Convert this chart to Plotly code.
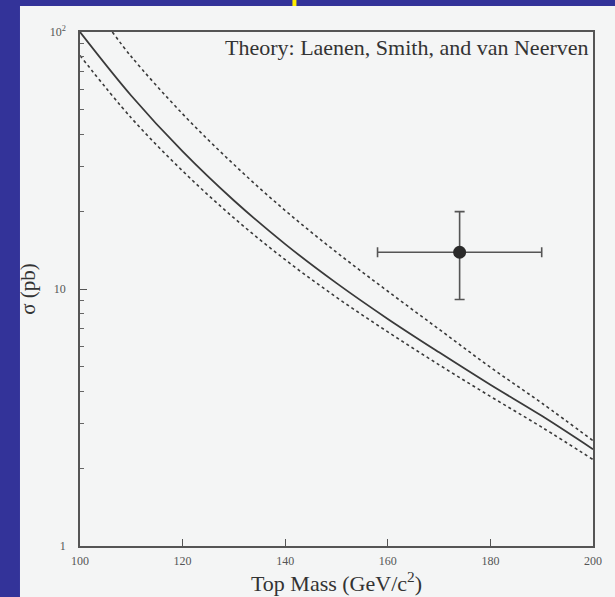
import plotly.graph_objects as go

# Theory curves (Laenen, Smith, van Neerven), sigma in pb vs top mass in GeV/c^2
mass = [100, 110, 120, 130, 140, 150, 160, 170, 180, 190, 200]
sigma_central = [100, 56.5, 34.3, 22.1, 14.95, 10.54, 7.65, 5.67, 4.24, 3.21, 2.38]
sigma_lower = [81, 46.3, 28.8, 18.9, 13.0, 9.28, 6.81, 5.07, 3.82, 2.9, 2.17]
mass_upper = [106.3, 110, 120, 130, 140, 150, 160, 170, 180, 190, 200]
sigma_upper = [100, 80.2, 48.0, 30.5, 20.2, 13.9, 9.8, 6.97, 4.96, 3.6, 2.57]

# Measurement
meas_mass = [174]
meas_mass_err = [16]
meas_sigma = [13.9]
meas_sigma_up = [6.1]
meas_sigma_down = [4.8]

x_ticks = [100, 120, 140, 160, 180, 200]
y_tickvals = [1, 10, 100]
y_ticktext = ["1", "10", "10<sup>2</sup>"]
y_minor = [2, 3, 4, 5, 6, 7, 8, 9, 20, 30, 40, 50, 60, 70, 80, 90]

SERIF = "Liberation Serif, Times New Roman, serif"
INK = "#3a3a3a"
PAPER = "#f4f5f5"

fig = go.Figure()
fig.add_trace(go.Scatter(x=mass_upper, y=sigma_upper, mode="lines",
                         line=dict(color=INK, width=1.6, dash="dot", shape="spline"),
                         showlegend=False))
fig.add_trace(go.Scatter(x=mass, y=sigma_central, mode="lines",
                         line=dict(color=INK, width=1.8, shape="spline"),
                         showlegend=False))
fig.add_trace(go.Scatter(x=mass, y=sigma_lower, mode="lines",
                         line=dict(color=INK, width=1.6, dash="dot", shape="spline"),
                         showlegend=False))
fig.add_trace(go.Scatter(x=meas_mass, y=meas_sigma, mode="markers",
                         marker=dict(color="#2a2a2a", size=13),
                         error_x=dict(type="data", array=meas_mass_err, color="#555", thickness=1.6, width=5),
                         error_y=dict(type="data", array=meas_sigma_up, arrayminus=meas_sigma_down,
                                      color="#555", thickness=1.6, width=5),
                         showlegend=False))

fig.add_annotation(x=0.995, y=0.97, xref="paper", yref="paper", xanchor="right", yanchor="middle",
                   text="Theory: Laenen, Smith, and van Neerven", showarrow=False,
                   font=dict(family=SERIF, size=22, color="#333"))

# light page area on blue slide background
fig.add_shape(type="rect", xref="paper", yref="paper", x0=-0.117, x1=1.05, y0=-0.11, y1=1.0506,
              fillcolor=PAPER, line=dict(width=0), layer="below")
fig.add_shape(type="line", xref="paper", yref="paper", x0=0.418, x1=0.418, y0=1.0506, y1=1.07,
              line=dict(color="#ffee00", width=4))

fig.update_xaxes(range=[100, 200], tickvals=x_ticks, ticks="inside", ticklen=7, tickcolor="#555",
                 showline=True, linecolor="#555", linewidth=1.5, mirror=True, showgrid=False,
                 zeroline=False, tickfont=dict(family=SERIF, size=12, color="#555"),
                 ticklabelstandoff=3,
                 title=dict(text="Top Mass (GeV/c<sup>2</sup>)", font=dict(family=SERIF, size=22, color="#333"),
                            standoff=0))
fig.update_yaxes(type="log", range=[0, 2], tickvals=y_tickvals, ticktext=y_ticktext, ticks="inside",
                 ticklen=7, tickcolor="#555", showline=True, linecolor="#555", linewidth=1.5, mirror=True,
                 showgrid=False, zeroline=False,
                 minor=dict(tickvals=y_minor, ticks="inside", ticklen=4, tickcolor="#666", showgrid=False),
                 tickfont=dict(family=SERIF, size=12, color="#555"),
                 ticklabelstandoff=10,
                 title=dict(text="σ (pb)", font=dict(family=SERIF, size=21, color="#333"), standoff=8))

fig.update_layout(width=615, height=597, paper_bgcolor="#333399", plot_bgcolor=PAPER,
                  margin=dict(l=80, r=22, t=32, b=51))

fig.write_html("out.html")
